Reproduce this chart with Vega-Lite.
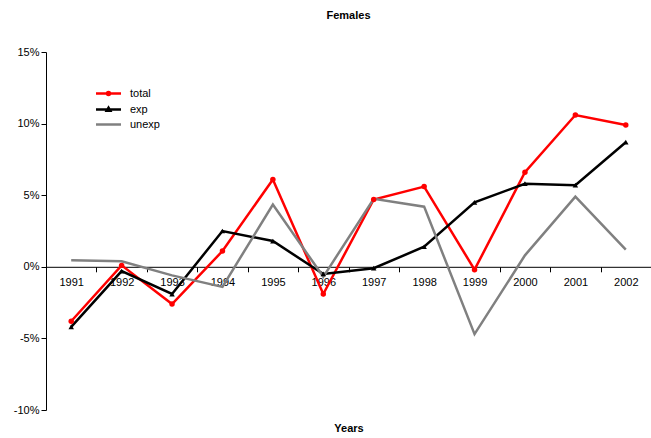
{
  "$schema": "https://vega.github.io/schema/vega-lite/v6.json",
  "width": 605,
  "height": 358,
  "autosize": {"type": "none"},
  "padding": {"left": 46, "top": 52, "right": 0, "bottom": 28},
  "title": {"text": "Females", "fontSize": 11, "font": "Liberation Sans", "fontWeight": "bold", "anchor": "middle", "offset": 25, "color": "black"},
  "config": {
    "view": {"stroke": null},
    "font": "Liberation Sans",
    "axis": {"labelFont": "Liberation Sans", "labelFontSize": 11, "labelColor": "black", "domainColor": "black", "tickColor": "black", "grid": false, "tickSize": 5, "titleFont": "Liberation Sans", "titleColor": "black"},
    "legend": {"padding": 0, "labelFont": "Liberation Sans", "labelFontSize": 11, "labelColor": "black", "labelOffset": 15, "rowPadding": 2, "symbolSize": 100, "symbolOpacity": 1, "symbolStrokeWidth": 2.5}
  },
  "data": {"values": [
    {"year": "1991", "series": "total", "value": -3.8},
    {"year": "1992", "series": "total", "value": 0.1},
    {"year": "1993", "series": "total", "value": -2.6},
    {"year": "1994", "series": "total", "value": 1.1},
    {"year": "1995", "series": "total", "value": 6.1},
    {"year": "1996", "series": "total", "value": -1.9},
    {"year": "1997", "series": "total", "value": 4.7},
    {"year": "1998", "series": "total", "value": 5.6},
    {"year": "1999", "series": "total", "value": -0.2},
    {"year": "2000", "series": "total", "value": 6.6},
    {"year": "2001", "series": "total", "value": 10.6},
    {"year": "2002", "series": "total", "value": 9.9},
    {"year": "1991", "series": "exp", "value": -4.2},
    {"year": "1992", "series": "exp", "value": -0.3},
    {"year": "1993", "series": "exp", "value": -1.9},
    {"year": "1994", "series": "exp", "value": 2.5},
    {"year": "1995", "series": "exp", "value": 1.8},
    {"year": "1996", "series": "exp", "value": -0.5},
    {"year": "1997", "series": "exp", "value": -0.1},
    {"year": "1998", "series": "exp", "value": 1.4},
    {"year": "1999", "series": "exp", "value": 4.5},
    {"year": "2000", "series": "exp", "value": 5.8},
    {"year": "2001", "series": "exp", "value": 5.7},
    {"year": "2002", "series": "exp", "value": 8.7},
    {"year": "1991", "series": "unexp", "value": 0.45},
    {"year": "1992", "series": "unexp", "value": 0.38},
    {"year": "1993", "series": "unexp", "value": -0.6},
    {"year": "1994", "series": "unexp", "value": -1.4},
    {"year": "1995", "series": "unexp", "value": 4.35},
    {"year": "1996", "series": "unexp", "value": -0.7},
    {"year": "1997", "series": "unexp", "value": 4.75},
    {"year": "1998", "series": "unexp", "value": 4.2},
    {"year": "1999", "series": "unexp", "value": -4.7},
    {"year": "2000", "series": "unexp", "value": 0.8},
    {"year": "2001", "series": "unexp", "value": 4.9},
    {"year": "2002", "series": "unexp", "value": 1.2}
  ]},
  "encoding": {
    "x": {
      "field": "year", "type": "ordinal", "bandPosition": 0.5,
      "scale": {"type": "band", "paddingInner": 0, "paddingOuter": 0},
      "axis": {"orient": "bottom", "offset": -143.2, "tickBand": "extent", "labelAngle": 0, "labelPadding": 5, "title": "Years", "titleFontSize": 11, "titleFontWeight": "bold", "titlePadding": 135}
    },
    "y": {
      "field": "value", "type": "quantitative",
      "scale": {"domain": [-10, 15], "nice": false, "zero": false},
      "axis": {"values": [-10, -5, 0, 5, 10, 15], "labelExpr": "datum.value + '%'", "title": null, "labelPadding": 2}
    }
  },
  "layer": [
    {
      "mark": {"type": "line", "strokeWidth": 2.5},
      "encoding": {
        "color": {
          "field": "series", "type": "nominal", "title": null,
          "scale": {"domain": ["total", "exp", "unexp"], "range": ["#FF0000", "#000000", "#808080"]},
          "legend": {
            "orient": "none", "legendX": 56, "legendY": 35, "title": null,
            "encode": {"symbols": {"update": {
              "opacity": {"value": 1},
              "strokeWidth": {"value": 2.5},
              "size": {"value": 100},
              "shape": {"signal": "datum.value == 'total' ? 'M-2.5,0H2.5M0,-0.3A0.3,0.3 0 1,1 0,0.3A0.3,0.3 0 1,1 0,-0.3Z' : datum.value == 'exp' ? 'M-2.5,0H2.5M0,-0.35L0.35,0.25L-0.35,0.25Z' : 'M-2.5,0H2.5'"},
              "stroke": {"signal": "datum.value == 'total' ? '#FF0000' : datum.value == 'exp' ? '#000000' : '#808080'"},
              "fill": {"signal": "datum.value == 'total' ? '#FF0000' : datum.value == 'exp' ? '#000000' : '#808080'"}
            }}}
          }
        }
      }
    },
    {
      "transform": [{"filter": "datum.series != 'unexp'"}],
      "mark": {"type": "point", "filled": true, "opacity": 1, "size": 30},
      "encoding": {
        "color": {"field": "series", "type": "nominal", "legend": null},
        "shape": {"field": "series", "type": "nominal", "scale": {"domain": ["total", "exp"], "range": ["circle", "triangle-up"]}, "legend": null}
      }
    }
  ]
}
